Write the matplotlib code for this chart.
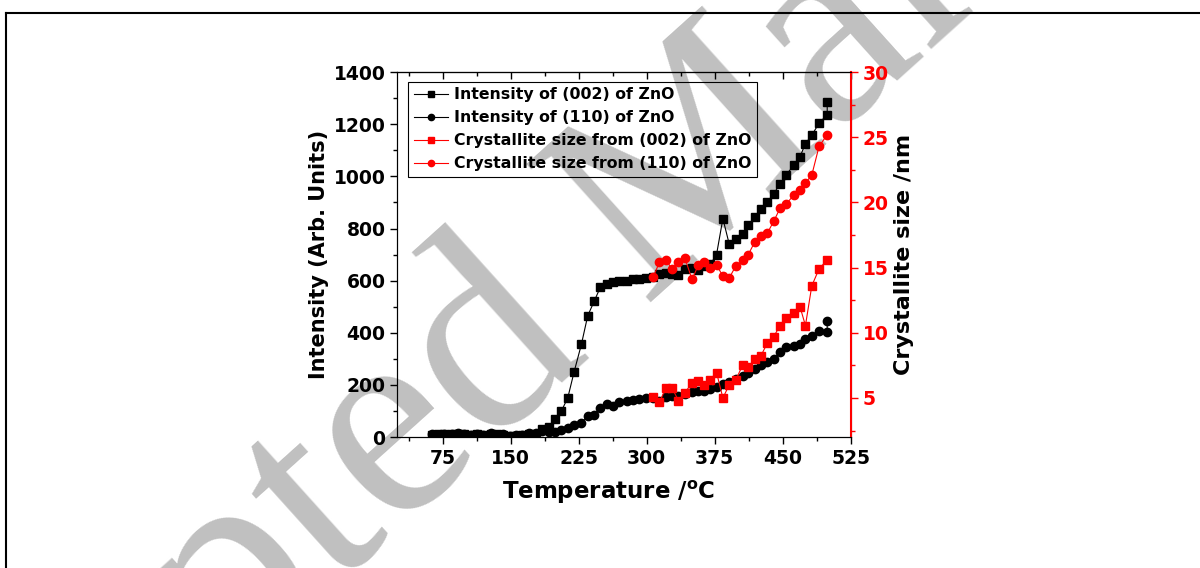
import matplotlib
matplotlib.use('Agg')
import matplotlib.pyplot as plt
from matplotlib.ticker import MultipleLocator
from matplotlib.lines import Line2D

# temperatures (degC)
temp_int = [63, 70, 77, 85, 92, 99, 106, 113, 120, 128, 135, 142, 149, 156, 163,
            170, 178, 185, 192, 199, 206, 213, 220, 228, 235, 242, 249, 256, 263,
            270, 278, 285, 292, 299, 307, 314, 321, 328, 335, 342, 350, 357, 363,
            370, 377, 384, 391, 398, 406, 412, 419, 426, 433, 440, 447, 454, 462,
            469, 475, 482, 490, 499, 499]
int_002 = [8, 10, 12, 10, 12, 10, 8, 10, 8, 12, 10, 8, 2, 4, 6,
           10, 12, 30, 38, 70, 100, 150, 250, 355, 465, 520, 575, 587, 594,
           598, 600, 605, 608, 612, 615, 625, 628, 625, 622, 645, 648, 640, 655,
           662, 700, 838, 740, 760, 780, 812, 844, 873, 902, 933, 972, 1007, 1042,
           1075, 1126, 1158, 1204, 1237, 1286]
int_110 = [10, 8, 12, 10, 14, 10, 8, 12, 8, 14, 8, 10, 2, 6, 8,
           15, 14, 22, 20, 19, 27, 36, 46, 55, 82, 86, 113, 128, 120,
           135, 137, 141, 145, 150, 148, 140, 152, 158, 158, 165, 171, 176, 175,
           183, 190, 203, 210, 222, 235, 245, 260, 276, 288, 301, 325, 344, 350,
           357, 378, 388, 408, 404, 446]

temp_size = [307, 314, 321, 328, 335, 342, 350, 357, 363, 370, 377, 384, 391, 398,
             406, 412, 419, 426, 433, 440, 447, 454, 462, 469, 475, 482, 490, 499]
size_002 = [5.1, 4.65, 5.75, 5.75, 4.8, 5.4, 6.15, 6.3, 6.0, 6.4, 6.95, 5.0, 6.0, 6.35,
            7.55, 7.35, 8.0, 8.25, 9.2, 9.7, 10.55, 11.1, 11.5, 12.0, 10.55, 13.6, 14.9, 15.6]
size_110 = [14.25, 15.4, 15.6, 14.9, 15.45, 15.75, 14.1, 15.2, 15.4, 15.0, 15.2, 14.35, 14.2, 15.1,
            15.55, 16.0, 16.95, 17.4, 17.65, 18.55, 19.55, 19.9, 20.55, 20.95, 21.5, 22.1, 24.3, 25.2]

plt.rcParams['font.family'] = 'DejaVu Sans'
plt.rcParams['font.weight'] = 'bold'
plt.rcParams['mathtext.fontset'] = 'dejavusans'

fig = plt.figure(figsize=(12, 5.68), dpi=100)

# watermark behind everything
fig.text(0.546, 0.637, 'Accepted Manuscript', rotation=42, fontsize=205,
         color='#c0c0c0', family='Liberation Serif', fontweight='normal',
         ha='center', va='center', zorder=-1)

# page frame
fig.add_artist(Line2D([0.005, 0.005], [0, 0.977], color='black', lw=1.5))
fig.add_artist(Line2D([0.005, 1.0], [0.977, 0.977], color='black', lw=1.5))

ax = fig.add_axes([0.331, 0.2306, 0.378, 0.6424])
ax.patch.set_visible(False)
ax2 = ax.twinx()

l1, = ax.plot(temp_int, int_002, '-s', color='black', lw=0.8, ms=5.5, label='Intensity of (002) of ZnO')
l2, = ax.plot(temp_int, int_110, '-o', color='black', lw=0.8, ms=6, label='Intensity of (110) of ZnO')
l3, = ax2.plot(temp_size, size_002, '-s', color='red', lw=0.8, ms=5.5, label='Crystallite size from (002) of ZnO')
l4, = ax2.plot(temp_size, size_110, '-o', color='red', lw=0.8, ms=6, label='Crystallite size from (110) of ZnO')

ax.set_xlim(25, 525)
ax.set_ylim(0, 1400)
ax2.set_ylim(2, 30)

ax.xaxis.set_major_locator(MultipleLocator(75))
ax.xaxis.set_minor_locator(MultipleLocator(37.5))
ax.yaxis.set_major_locator(MultipleLocator(200))
ax.yaxis.set_minor_locator(MultipleLocator(100))
ax2.yaxis.set_major_locator(MultipleLocator(5))
ax2.yaxis.set_minor_locator(MultipleLocator(2.5))

ax.tick_params(axis='both', which='major', direction='out', length=5, width=1, labelsize=13.5)
ax.tick_params(axis='both', which='minor', direction='out', length=3, width=1)
ax2.tick_params(axis='y', which='major', direction='out', length=5, width=1,
                colors='red', labelsize=13.5)
ax2.tick_params(axis='y', which='minor', direction='out', length=3, width=1, colors='red')

top = ax.secondary_xaxis('top')
top.xaxis.set_major_locator(MultipleLocator(75))
top.xaxis.set_minor_locator(MultipleLocator(37.5))
top.tick_params(which='major', direction='in', length=5, width=1, labeltop=False)
top.tick_params(which='minor', direction='in', length=3, width=1)

ax2.spines['right'].set_color('red')
ax2.spines['right'].set_linewidth(1.5)

ax.set_xlabel(r'Temperature /$\mathbf{^{o}}$C', fontsize=16.5, fontweight='bold')
ax.xaxis.set_label_coords(0.465, -0.115)
ax.set_ylabel('Intensity (Arb. Units)', fontsize=15, fontweight='bold', labelpad=3)
ax2.set_ylabel('Crystallite size /nm', fontsize=16, fontweight='bold', labelpad=4)

leg = ax.legend(handles=[l1, l2, l3, l4], loc='upper left', bbox_to_anchor=(0.024, 0.973),
                fontsize=11.3, frameon=True, fancybox=False, edgecolor='black',
                handlelength=2.2, handletextpad=0.4, borderpad=0.35, labelspacing=0.5,
                markerscale=0.75, borderaxespad=0, framealpha=1)
leg.get_frame().set_linewidth(0.8)
leg.get_frame().set_facecolor('none')
leg.set_zorder(5)

fig.savefig('out.png', dpi=100)
